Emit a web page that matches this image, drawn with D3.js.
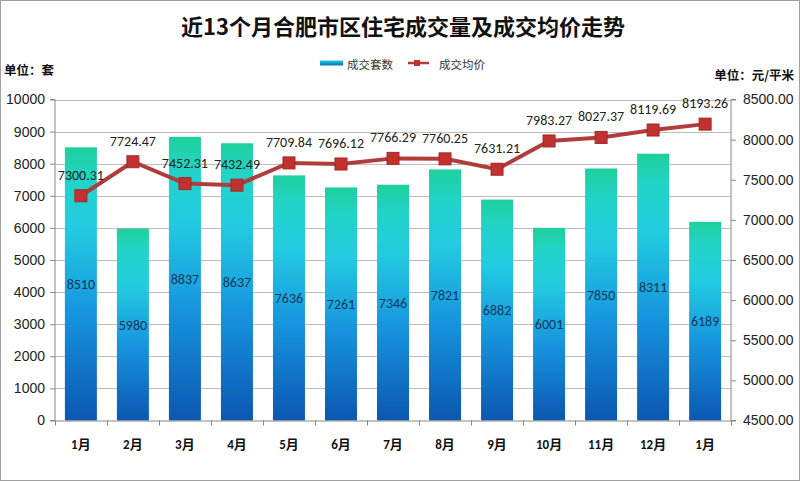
<!DOCTYPE html>
<html><head><meta charset="utf-8">
<script src="https://cdn.jsdelivr.net/npm/d3@7"></script>
<style>
body{margin:0;background:#fff;}
svg{display:block;font-family:Calibri,"Liberation Sans","Noto Sans CJK SC",sans-serif;}
</style></head><body>
<script>
const months = ["1月","2月","3月","4月","5月","6月","7月","8月","9月","10月","11月","12月","1月"];
const volume = [8510,5980,8837,8637,7636,7261,7346,7821,6882,6001,7850,8311,6189];
const price = [7300.31,7724.47,7452.31,7432.49,7709.84,7696.12,7766.29,7760.25,7631.21,7983.27,8027.37,8119.69,8193.26];
const leftTicks = [0,1000,2000,3000,4000,5000,6000,7000,8000,9000,10000];
const rightTicks = [4500,5000,5500,6000,6500,7000,7500,8000,8500];

const W=800,H=481;
const svg=d3.select("body").append("svg").attr("width",W).attr("height",H);
svg.append("rect").attr("x",0.5).attr("y",0.5).attr("width",W-1).attr("height",H-1).attr("fill","#fff").attr("stroke","#a0a0a0");

const L=55,R=731,T=99.5,B=420.5;
const x=d3.scaleBand().domain(d3.range(months.length)).range([L,R]).paddingInner(0.385).paddingOuter(0.19);
const yL=d3.scaleLinear().domain([0,10000]).range([B,T]);
const yR=d3.scaleLinear().domain([4500,8500]).range([B,T]);

const defs=svg.append("defs");
const g=defs.append("linearGradient").attr("id","barg").attr("x1",0).attr("y1",0).attr("x2",0).attr("y2",1);
[[0,"#1fd09c"],[0.12,"#22d4c8"],[0.3,"#22cbe0"],[0.6,"#1796de"],[1,"#0b57b0"]].forEach(s=>g.append("stop").attr("offset",s[0]).attr("stop-color",s[1]));
const g2=defs.append("linearGradient").attr("id","legg").attr("x1",0).attr("y1",0).attr("x2",0).attr("y2",1);
[[0,"#22cbe0"],[1,"#0b6fc0"]].forEach(s=>g2.append("stop").attr("offset",s[0]).attr("stop-color",s[1]));

// gridlines
svg.append("g").selectAll("line").data(leftTicks.slice(1)).join("line")
 .attr("x1",L).attr("x2",R).attr("y1",d=>Math.round(yL(d))+0.5).attr("y2",d=>Math.round(yL(d))+0.5)
 .attr("stroke","#bdbdbd").attr("stroke-width",1);

// bars
svg.append("g").selectAll("rect").data(volume).join("rect")
 .attr("x",(d,i)=>x(i)).attr("width",x.bandwidth()).attr("y",d=>yL(d)).attr("height",d=>B-yL(d))
 .attr("fill","url(#barg)");

// axes
const axL=svg.append("g").attr("transform",`translate(${L},0)`).call(d3.axisLeft(yL).tickValues(leftTicks).tickSize(5).tickFormat(d3.format("d")));
const axR=svg.append("g").attr("transform",`translate(${R},0)`).call(d3.axisRight(yR).tickValues(rightTicks).tickSize(5).tickFormat(d3.format(".2f")));
const xb=d3.scaleLinear().domain([0,months.length]).range([L,R]);
const axB=svg.append("g").attr("transform",`translate(0,${B})`).call(d3.axisBottom(xb).tickValues(d3.range(months.length+1)).tickSize(5).tickFormat(""));
[axL,axR,axB].forEach(a=>{a.selectAll("path,line").attr("stroke","#888");a.select(".domain").attr("stroke","#888");});
axB.select(".domain").attr("d",`M${L},0.5H${R}`);
axL.select(".domain").attr("d",`M-5,${T}H0V${B}H-5`);
axR.select(".domain").attr("d",`M5,${T}H0V${B}H5`);
axL.selectAll("text").attr("font-size",14).attr("fill","#222").attr("x",-10);
axR.selectAll("text").attr("font-size",14).attr("fill","#222").attr("x",12);

// month labels
svg.append("g").selectAll("text").data(months).join("text")
 .attr("x",(d,i)=>x(i)+x.bandwidth()/2).attr("y",449).attr("text-anchor","middle")
 .attr("font-size",13).attr("font-weight","bold").attr("fill","#111").text(d=>d);

// bar value labels
svg.append("g").selectAll("text").data(volume).join("text")
 .attr("x",(d,i)=>x(i)+x.bandwidth()/2).attr("y",d=>(yL(d)+B)/2+5).attr("text-anchor","middle")
 .attr("font-size",14).attr("fill","#16345a").text(d=>d);

// line
const cx=i=>x(i)+x.bandwidth()/2;
svg.append("path").datum(price).attr("fill","none").attr("stroke","#b13c3c").attr("stroke-width",4)
 .attr("d",d3.line().x((d,i)=>cx(i)).y(d=>yR(d)));
svg.append("g").selectAll("rect").data(price).join("rect")
 .attr("x",(d,i)=>cx(i)-6).attr("y",d=>yR(d)-6).attr("width",12).attr("height",12)
 .attr("fill","#c0312f").attr("stroke","#a52828");
svg.append("g").selectAll("text").data(price).join("text")
 .attr("x",(d,i)=>cx(i)).attr("y",d=>yR(d)-16).attr("text-anchor","middle")
 .attr("font-size",14).attr("fill","#222").text(d=>d.toFixed(2));

// title
svg.append("text").attr("x",403).attr("y",35).attr("text-anchor","middle").attr("font-size",22).attr("font-weight","bold")
 .attr("font-family","'Noto Sans CJK SC',sans-serif").attr("fill","#111").text("近13个月合肥市区住宅成交量及成交均价走势");

// legend
const lg=svg.append("g").attr("font-family","'Noto Sans CJK SC',sans-serif").attr("font-size",11.5).attr("fill","#333");
lg.append("rect").attr("x",320).attr("y",60.5).attr("width",23).attr("height",5).attr("fill","url(#legg)");
lg.append("text").attr("x",347).attr("y",69).text("成交套数");
lg.append("line").attr("x1",408).attr("x2",429).attr("y1",63).attr("y2",63).attr("stroke","#b13c3c").attr("stroke-width",2.5);
lg.append("rect").attr("x",414).attr("y",60).attr("width",6).attr("height",6).attr("fill","#c0312f");
lg.append("text").attr("x",439).attr("y",69).text("成交均价");

svg.append("text").attr("x",4).attr("y",75).attr("font-size",12.5).attr("font-weight","bold")
 .attr("font-family","'Noto Sans CJK SC',sans-serif").attr("fill","#111").text("单位：套");
svg.append("text").attr("x",794).attr("y",80).attr("text-anchor","end").attr("font-size",12.5).attr("font-weight","bold")
 .attr("font-family","'Noto Sans CJK SC',sans-serif").attr("fill","#111").text("单位：元/平米");
</script></body></html>
